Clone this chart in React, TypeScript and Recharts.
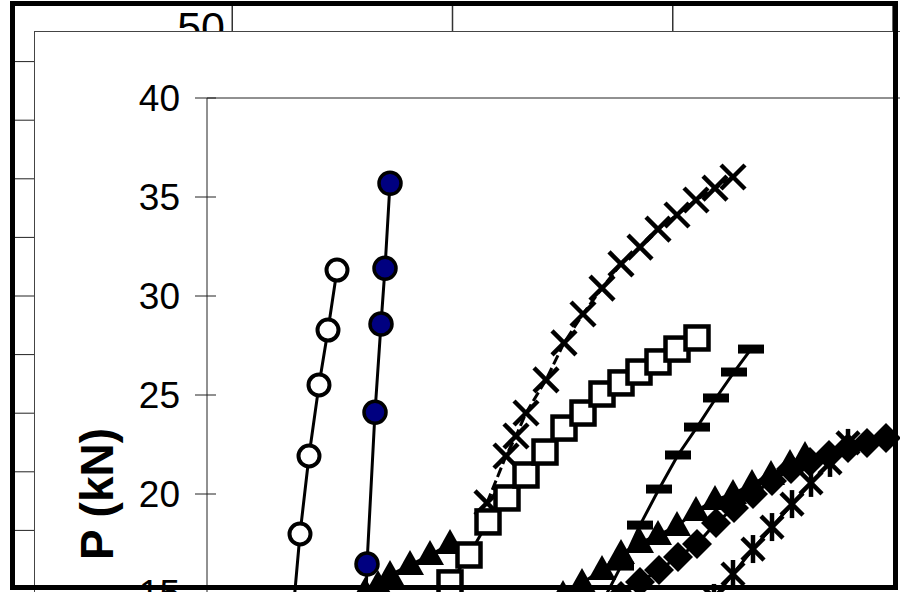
import React from 'react';
import { LineChart, Line, XAxis, YAxis, ReferenceLine, Label } from 'recharts';

const FONT = '"Liberation Sans", Arial, sans-serif';

// inner chart axis
const yTicks = [15, 20, 25, 30, 35, 40];
// background chart grid
const bgXTicks = [0, 1, 2, 3, 4];
const bgYTicks = [0, 5, 10, 15, 20, 25, 30, 35, 40, 45, 50];

const openCircleData = [
  { x: 0.79, y: 11.0 },
  { x: 0.86, y: 14.0 },
  { x: 0.93, y: 17.98 },
  { x: 1.02, y: 21.92 },
  { x: 1.12, y: 25.51 },
  { x: 1.21, y: 28.28 },
  { x: 1.3, y: 31.31 },
];

const filledCircleData = [
  { x: 1.58, y: 13.0 },
  { x: 1.6, y: 16.46 },
  { x: 1.68, y: 24.13 },
  { x: 1.74, y: 28.59 },
  { x: 1.78, y: 31.4 },
  { x: 1.83, y: 35.69 },
];

const crossData = [
  { x: 2.8, y: 19.55 },
  { x: 2.99, y: 21.92 },
  { x: 3.09, y: 22.93 },
  { x: 3.19, y: 24.09 },
  { x: 3.39, y: 25.76 },
  { x: 3.57, y: 27.63 },
  { x: 3.76, y: 29.09 },
  { x: 3.95, y: 30.4 },
  { x: 4.14, y: 31.62 },
  { x: 4.33, y: 32.47 },
  { x: 4.51, y: 33.38 },
  { x: 4.7, y: 34.09 },
  { x: 4.89, y: 34.85 },
  { x: 5.08, y: 35.45 },
  { x: 5.26, y: 36.01 },
];

const squareData = [
  { x: 2.43, y: 15.51 },
  { x: 2.62, y: 16.92 },
  { x: 2.81, y: 18.59 },
  { x: 3.0, y: 19.8 },
  { x: 3.19, y: 20.96 },
  { x: 3.38, y: 22.12 },
  { x: 3.57, y: 23.33 },
  { x: 3.76, y: 24.09 },
  { x: 3.95, y: 25.05 },
  { x: 4.14, y: 25.61 },
  { x: 4.32, y: 26.16 },
  { x: 4.51, y: 26.67 },
  { x: 4.7, y: 27.32 },
  { x: 4.9, y: 27.88 },
];

const dashData = [
  { x: 3.96, y: 14.6 },
  { x: 4.14, y: 16.36 },
  { x: 4.33, y: 18.43 },
  { x: 4.52, y: 20.25 },
  { x: 4.71, y: 21.97 },
  { x: 4.9, y: 23.38 },
  { x: 5.09, y: 24.85 },
  { x: 5.27, y: 26.16 },
  { x: 5.44, y: 27.32 },
];

const triangleLeftData = [
  { x: 1.58, y: 15.05 },
  { x: 1.71, y: 15.4 },
  { x: 1.83, y: 15.91 },
  { x: 2.03, y: 16.41 },
  { x: 2.23, y: 16.92 },
  { x: 2.43, y: 17.47 },
];

const triangleRightData = [
  { x: 3.56, y: 14.9 },
  { x: 3.75, y: 15.51 },
  { x: 3.95, y: 16.16 },
  { x: 4.14, y: 16.97 },
  { x: 4.33, y: 17.53 },
  { x: 4.51, y: 17.93 },
  { x: 4.7, y: 18.38 },
  { x: 4.89, y: 19.14 },
  { x: 5.08, y: 19.7 },
  { x: 5.26, y: 20.0 },
  { x: 5.45, y: 20.51 },
  { x: 5.64, y: 20.96 },
  { x: 5.83, y: 21.52 },
  { x: 5.98, y: 21.92 },
];

const diamondData = [
  { x: 4.14, y: 14.85 },
  { x: 4.33, y: 15.56 },
  { x: 4.52, y: 16.16 },
  { x: 4.71, y: 16.82 },
  { x: 4.9, y: 17.47 },
  { x: 5.09, y: 18.54 },
  { x: 5.27, y: 19.29 },
  { x: 5.46, y: 20.0 },
  { x: 5.65, y: 20.66 },
  { x: 5.84, y: 21.26 },
  { x: 6.03, y: 21.62 },
  { x: 6.22, y: 21.97 },
  { x: 6.41, y: 22.32 },
  { x: 6.6, y: 22.58 },
  { x: 6.79, y: 22.83 },
];

const asteriskData = [
  { x: 5.07, y: 14.75 },
  { x: 5.26, y: 15.96 },
  { x: 5.46, y: 17.22 },
  { x: 5.65, y: 18.33 },
  { x: 5.85, y: 19.49 },
  { x: 6.04, y: 20.56 },
  { x: 6.23, y: 21.57 },
  { x: 6.41, y: 22.58 },
];

type Kind = 'openCircle' | 'filledCircle' | 'cross' | 'square' | 'dash' | 'triangle' | 'diamond' | 'asterisk';

function Marker({ kind, cx, cy }: { kind: Kind; cx: number; cy: number }) {
  if (cx == null || cy == null) return null;
  switch (kind) {
    case 'openCircle':
      return <circle cx={cx} cy={cy} r={10.5} fill="#fff" stroke="#000" strokeWidth={4} />;
    case 'filledCircle':
      return <circle cx={cx} cy={cy} r={11} fill="#000080" stroke="#000" strokeWidth={3.5} />;
    case 'cross':
      return (
        <g stroke="#000" strokeWidth={4.5}>
          <line x1={cx - 12} y1={cy - 12} x2={cx + 12} y2={cy + 12} />
          <line x1={cx - 12} y1={cy + 12} x2={cx + 12} y2={cy - 12} />
        </g>
      );
    case 'square':
      return <rect x={cx - 11.5} y={cy - 11.5} width={23} height={23} fill="#fff" stroke="#000" strokeWidth={4.5} />;
    case 'dash':
      return <rect x={cx - 13} y={cy - 4.5} width={26} height={9} fill="#000" />;
    case 'triangle':
      return <polygon points={`${cx},${cy - 15} ${cx + 14},${cy + 10} ${cx - 14},${cy + 10}`} fill="#000" />;
    case 'diamond':
      return <polygon points={`${cx},${cy - 15} ${cx + 15},${cy} ${cx},${cy + 15} ${cx - 15},${cy}`} fill="#000" />;
    case 'asterisk':
      return (
        <g stroke="#000" strokeWidth={4.5}>
          <line x1={cx - 11} y1={cy - 11} x2={cx + 11} y2={cy + 11} />
          <line x1={cx - 11} y1={cy + 11} x2={cx + 11} y2={cy - 11} />
          <line x1={cx} y1={cy - 14} x2={cx} y2={cy + 14} />
        </g>
      );
  }
  return null;
}

const makeDot = (kind: Kind) => (p: any) => <Marker key={`${kind}-${p.index}`} kind={kind} cx={p.cx} cy={p.cy} />;

function YTick(props: any) {
  const { x, y, payload } = props;
  return (
    <g>
      <line x1={x - 12} x2={x + 9} y1={y} y2={y} stroke="#222" strokeWidth={1} />
      <text x={x - 27} y={y} dy="0.36em" textAnchor="end" fontSize={37} fill="#000" fontFamily={FONT}>
        {payload.value}
      </text>
    </g>
  );
}

function AxisTitle() {
  return (
    <text
      x={113}
      y={494}
      transform="rotate(-90, 113, 494)"
      textAnchor="middle"
      fontSize={46}
      fontWeight="bold"
      fill="#000"
      fontFamily={FONT}
    >
      P (kN)
    </text>
  );
}

const series: { data: { x: number; y: number }[]; kind: Kind; dashed?: boolean }[] = [
  { data: triangleLeftData, kind: 'triangle' },
  { data: triangleRightData, kind: 'triangle' },
  { data: diamondData, kind: 'diamond' },
  { data: asteriskData, kind: 'asterisk' },
  { data: dashData, kind: 'dash' },
  { data: crossData, kind: 'cross', dashed: true },
  { data: squareData, kind: 'square' },
  { data: openCircleData, kind: 'openCircle' },
  { data: filledCircleData, kind: 'filledCircle' },
];

// baseline row for the background chart so its axes get a scale
const bgBase = bgXTicks.map((x) => ({ x, y: 0 }));

export default function App() {
  return (
    <div style={{ position: 'fixed', left: 0, top: 0, width: 900, height: 592, overflow: 'hidden', background: '#fff', fontFamily: FONT }}>
      {/* background chart behind the overlay */}
      <div style={{ position: 'absolute', left: 0, top: 0 }}>
        <LineChart width={900} height={592} margin={{ top: 3, right: 7, left: 12, bottom: 3 }}>
          <XAxis type="number" dataKey="x" domain={[0, 4]} ticks={bgXTicks} allowDataOverflow hide />
          <YAxis type="number" domain={[0, 50]} ticks={bgYTicks} allowDataOverflow hide />
          {bgXTicks.map((t) => (
            <ReferenceLine key={`vx${t}`} x={t} stroke="#333" strokeWidth={1.5} ifOverflow="visible" />
          ))}
          {bgYTicks.map((t) => (
            <ReferenceLine key={`hy${t}`} y={t} stroke="#222" strokeWidth={1} ifOverflow="visible" />
          ))}
          <Line data={bgBase} dataKey="y" stroke="none" dot={false} activeDot={false} isAnimationActive={false} />
        </LineChart>
      </div>
      <div style={{ position: 'absolute', left: 145, top: 6, width: 80, textAlign: 'right', fontSize: 43, lineHeight: '43px', color: '#000' }}>
        50
      </div>

      {/* overlay panel */}
      <div
        style={{
          position: 'absolute',
          left: 34,
          top: 31,
          width: 900,
          height: 620,
          background: '#fff',
          borderTop: '1px solid #444',
          borderLeft: '1px solid #444',
        }}
      />
      <div style={{ position: 'absolute', left: 0, top: 0 }}>
        <LineChart width={910} height={700} margin={{ top: 98, right: 3, left: 0, bottom: 8 }}>
          <XAxis type="number" dataKey="x" domain={[0, 7]} hide />
          <YAxis
            type="number"
            domain={[10, 40]}
            ticks={yTicks}
            interval={0}
            width={207}
            tickSize={0}
            tickMargin={0}
            tickLine={false}
            axisLine={{ stroke: '#222', strokeWidth: 1 }}
            tick={<YTick />}
          >
            <Label content={<AxisTitle />} />
          </YAxis>
          <ReferenceLine y={40} stroke="#222" strokeWidth={1} />
          {series.map((s, i) => (
            <Line
              key={i}
              data={s.data}
              dataKey="y"
              type="linear"
              stroke="#000"
              strokeWidth={3}
              strokeDasharray={s.dashed ? '10 4' : undefined}
              dot={makeDot(s.kind)}
              activeDot={false}
              isAnimationActive={false}
            />
          ))}
        </LineChart>
      </div>

      {/* thick outer frame */}
      <div
        style={{
          position: 'absolute',
          left: 10,
          top: 1,
          width: 888,
          height: 589,
          border: '5px solid #000',
          boxSizing: 'border-box',
        }}
      />
    </div>
  );
}
